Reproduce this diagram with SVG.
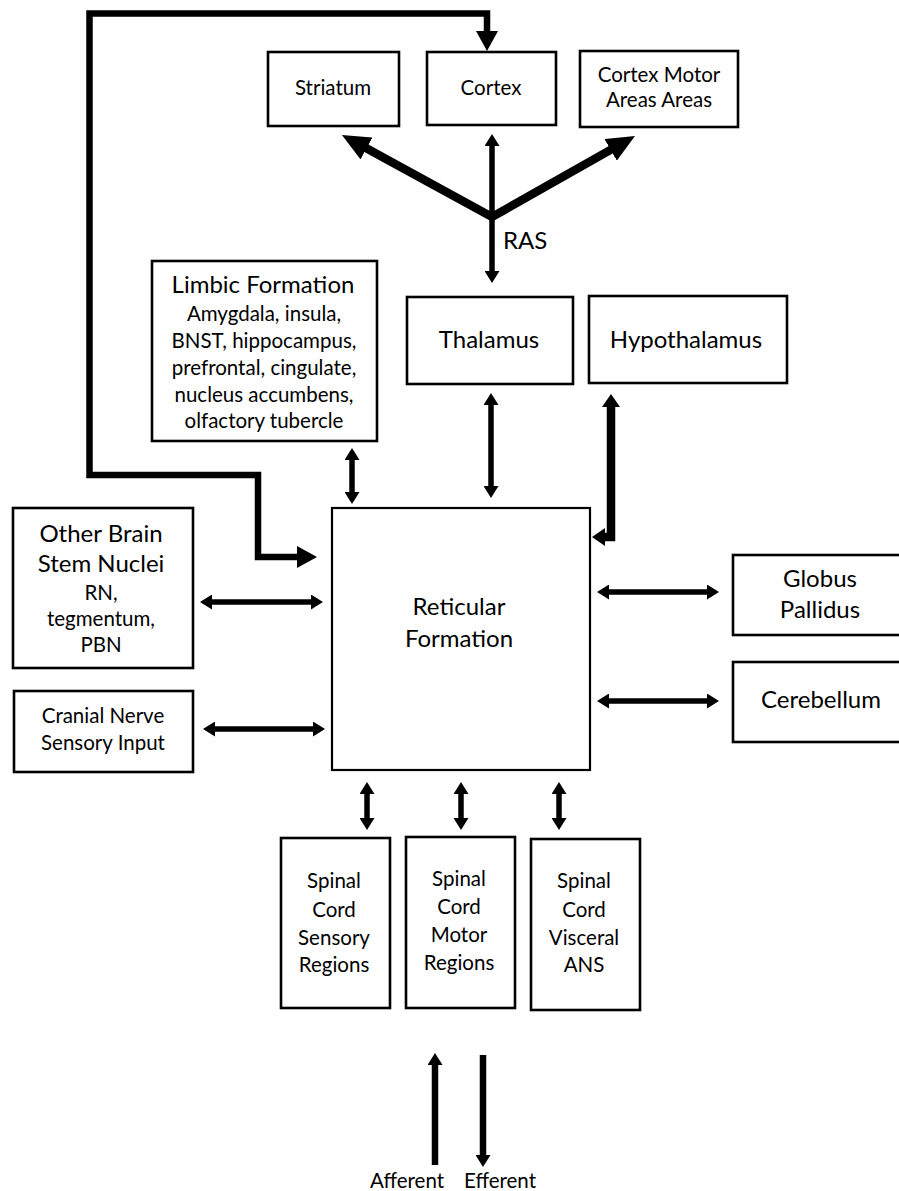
<svg xmlns="http://www.w3.org/2000/svg" width="899" height="1191" viewBox="0 0 899 1191">
<style>
.box{fill:#fff;stroke:#000;stroke-width:2.6}
.rf{fill:#fff;stroke:#000;stroke-width:2.2}
text{font-family:Lato,"Open Sans","Liberation Sans",sans-serif;fill:#000;text-anchor:middle}
.t{font-size:24px}
.s{font-size:20.5px}
.c{fill:none;stroke:#000;stroke-linejoin:miter}
.w5{stroke-width:5.5}
.w6{stroke-width:6.5}
.w8{stroke-width:8.5}
</style>
<defs>
<marker id="h" markerUnits="userSpaceOnUse" markerWidth="12" markerHeight="15" refX="4" refY="7.5" orient="auto-start-reverse"><path d="M0,0 L12,7.5 L0,15 Z" fill="#000"/></marker>
<marker id="hy" markerUnits="userSpaceOnUse" markerWidth="13" markerHeight="18" refX="5" refY="9" orient="auto-start-reverse"><path d="M0,0 L13,9 L0,18 Z" fill="#000"/></marker>
<marker id="L" markerUnits="userSpaceOnUse" markerWidth="20" markerHeight="22" refX="6" refY="11" orient="auto-start-reverse"><path d="M0,0 L20,11 L0,22 Z" fill="#000"/></marker>
<marker id="B" markerUnits="userSpaceOnUse" markerWidth="28" markerHeight="25" refX="8" refY="12.5" orient="auto-start-reverse"><path d="M0,0 L28,12.5 L0,25 Z" fill="#000"/></marker>
</defs>

<g id="connectors">
<path class="c w6" d="M303,557 H258 V475 H89.5 V13.5 H487 V37" marker-start="url(#L)" marker-end="url(#L)"/>
<path class="c w5" d="M492,142 V275" marker-start="url(#h)" marker-end="url(#h)"/>
<path class="c w8" d="M359.5,144.6 L492,217 L617.6,145.9" marker-start="url(#B)" marker-end="url(#B)"/>
<path class="c w5" d="M491,401 V490" marker-start="url(#h)" marker-end="url(#h)"/>
<path class="c w5" d="M352,456 V496" marker-start="url(#h)" marker-end="url(#h)"/>
<path class="c w8" d="M611,402 V537 H600" marker-start="url(#hy)" marker-end="url(#hy)"/>
<path class="c w5" d="M605,592 H711" marker-start="url(#h)" marker-end="url(#h)"/>
<path class="c w5" d="M605,701 H711" marker-start="url(#h)" marker-end="url(#h)"/>
<path class="c w5" d="M208,602 H315" marker-start="url(#h)" marker-end="url(#h)"/>
<path class="c w5" d="M211,729 H317" marker-start="url(#h)" marker-end="url(#h)"/>
<path class="c w5" d="M367,790 V822" marker-start="url(#h)" marker-end="url(#h)"/>
<path class="c w5" d="M461,790 V822" marker-start="url(#h)" marker-end="url(#h)"/>
<path class="c w5" d="M559,790 V822" marker-start="url(#h)" marker-end="url(#h)"/>
<path class="c w6" d="M435,1165 V1061" marker-end="url(#h)"/>
<path class="c w6" d="M483,1055 V1159" marker-end="url(#h)"/>
</g>

<g id="striatum"><rect class="box" x="268" y="52" width="131" height="74"/><text class="s" x="333" y="95">Striatum</text></g>
<g id="cortex"><rect class="box" x="427" y="52" width="129" height="73"/><text class="s" x="491" y="95">Cortex</text></g>
<g id="cortex-motor"><rect class="box" x="580" y="51" width="158" height="76"/><text class="s" x="659" y="82">Cortex Motor</text><text class="s" x="659" y="107">Areas Areas</text></g>
<g id="ras-label"><text class="t" x="503" y="249" style="text-anchor:start">RAS</text></g>
<g id="limbic"><rect class="box" x="152" y="261" width="225" height="180"/>
<text class="t" x="263" y="293">Limbic Formation</text>
<text class="s" x="264" y="321">Amygdala, insula,</text>
<text class="s" x="264" y="348">BNST, hippocampus,</text>
<text class="s" x="264" y="375">prefrontal, cingulate,</text>
<text class="s" x="264" y="402">nucleus accumbens,</text>
<text class="s" x="264" y="428">olfactory tubercle</text></g>
<g id="thalamus"><rect class="box" x="407" y="297" width="166" height="87"/><text class="t" x="489" y="348">Thalamus</text></g>
<g id="hypothalamus"><rect class="box" x="589" y="296" width="198" height="87"/><text class="t" x="686" y="348">Hypothalamus</text></g>
<g id="other-brain-stem"><rect class="box" x="13" y="508" width="180" height="160"/>
<text class="t" x="101" y="542">Other Brain</text>
<text class="t" x="101" y="572">Stem Nuclei</text>
<text class="s" x="101" y="600">RN,</text>
<text class="s" x="101" y="626">tegmentum,</text>
<text class="s" x="101" y="652">PBN</text></g>
<g id="cranial"><rect class="box" x="14" y="691" width="179" height="81"/>
<text class="s" x="103" y="723">Cranial Nerve</text>
<text class="s" x="103" y="750">Sensory Input</text></g>
<g id="reticular"><rect class="rf" x="332" y="508" width="258" height="262"/>
<text class="t" x="459" y="615">Reticular</text>
<text class="t" x="459" y="647">Formation</text></g>
<g id="globus"><rect class="box" x="733" y="555" width="174" height="80"/>
<text class="t" x="820" y="587">Globus</text>
<text class="t" x="820" y="618">Pallidus</text></g>
<g id="cerebellum"><rect class="box" x="733" y="662" width="174" height="80"/>
<text class="t" x="821" y="708">Cerebellum</text></g>
<g id="spinal-sensory"><rect class="box" x="281" y="838" width="109" height="170"/>
<text class="s" x="334" y="888">Spinal</text><text class="s" x="334" y="917">Cord</text><text class="s" x="334" y="945">Sensory</text><text class="s" x="334" y="972">Regions</text></g>
<g id="spinal-motor"><rect class="box" x="406" y="837" width="109" height="171"/>
<text class="s" x="459" y="886">Spinal</text><text class="s" x="459" y="914">Cord</text><text class="s" x="459" y="942">Motor</text><text class="s" x="459" y="970">Regions</text></g>
<g id="spinal-visceral"><rect class="box" x="531" y="839" width="109" height="171"/>
<text class="s" x="584" y="888">Spinal</text><text class="s" x="584" y="917">Cord</text><text class="s" x="584" y="945">Visceral</text><text class="s" x="584" y="972">ANS</text></g>
<g id="afferent-label"><text class="s" x="407" y="1188">Afferent</text></g>
<g id="efferent-label"><text class="s" x="500" y="1188">Efferent</text></g>
</svg>
